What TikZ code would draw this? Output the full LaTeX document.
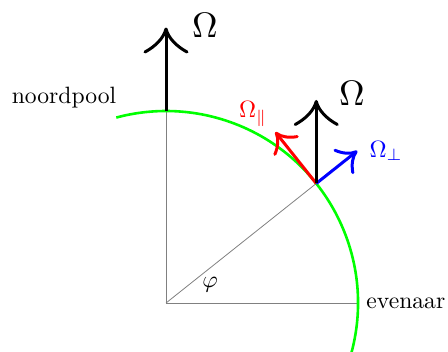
\RequirePackage{fix-cm}
\documentclass[tikz,border=0pt]{standalone}
\usetikzlibrary{arrows.meta}
\begin{document}
\begin{tikzpicture}[x=1bp,y=1bp,
  thingray/.style={draw=gray, line width=0.8bp},
  globe/.style={draw=green, line width=2.6bp},
  vec/.style={line width=3bp, shorten >=1.5bp},
  barb/.pic={\draw[line width=3bp, line join=round, line cap=round]
     (-23,21) .. controls (-17.3,10.5) and (-9.2,2.5) .. (0,0)
     .. controls (-9.2,-2.5) and (-17.3,-10.5) .. (-23,-21);},
  lbl/.style={inner sep=0pt, font=\fontsize{10pt}{12pt}\selectfont, scale=2.37, transform shape},
  biglbl/.style={inner sep=0pt, font=\fontsize{10pt}{12pt}\selectfont, scale=3.55, transform shape}]
\useasboundingbox (0,0) rectangle (448,351);
\coordinate (O) at (166,48);
\coordinate (N) at (166,240);
\coordinate (E) at (358,48);
\coordinate (P) at ([shift={(38.5:192)}]O);
\coordinate (A) at ([shift={(-15:192)}]O);
\coordinate (Tpar) at ([shift={(128.5:64.2)}]P);
\coordinate (Tperp) at ([shift={(38.5:51)}]P);
\coordinate (TP) at ([shift={(0,82)}]P);
\coordinate (TN) at ([shift={(0,82)}]N);
% gray construction lines
\draw[thingray] (O) -- (N);
\draw[thingray] (O) -- (E);
\draw[thingray] (O) -- (P);
% meridian
\draw[globe] (A) arc[start angle=-15, end angle=105, radius=192];
% vectors
\draw[vec, red] (P) -- (Tpar);
\pic[red, rotate=128.5, scale=0.68] at (Tpar) {barb};
\draw[vec, blue] (P) -- (Tperp);
\pic[blue, rotate=38.5, scale=0.68] at (Tperp) {barb};
\draw[vec] (P) -- (TP);
\pic[rotate=90] at (TP) {barb};
\draw[vec] (N) -- (TN);
\pic[rotate=90] at (TN) {barb};
% labels
\node[biglbl] (OmN) at (205,326) {$\Omega$};
\node[biglbl] (OmP) at (352,258) {$\Omega$};
\node[lbl, text=red] (Ompar) at (253,237) {$\Omega_\parallel$};
\node[lbl, text=blue] (Omperp) at (386,200) {$\Omega_\perp$};
\node[lbl] (np) at (64,253) {noordpool};
\node[lbl, anchor=west] (ev) at (366,48) {evenaar};
\node[lbl] (phi) at (210,66) {$\varphi$};
\end{tikzpicture}
\end{document}
